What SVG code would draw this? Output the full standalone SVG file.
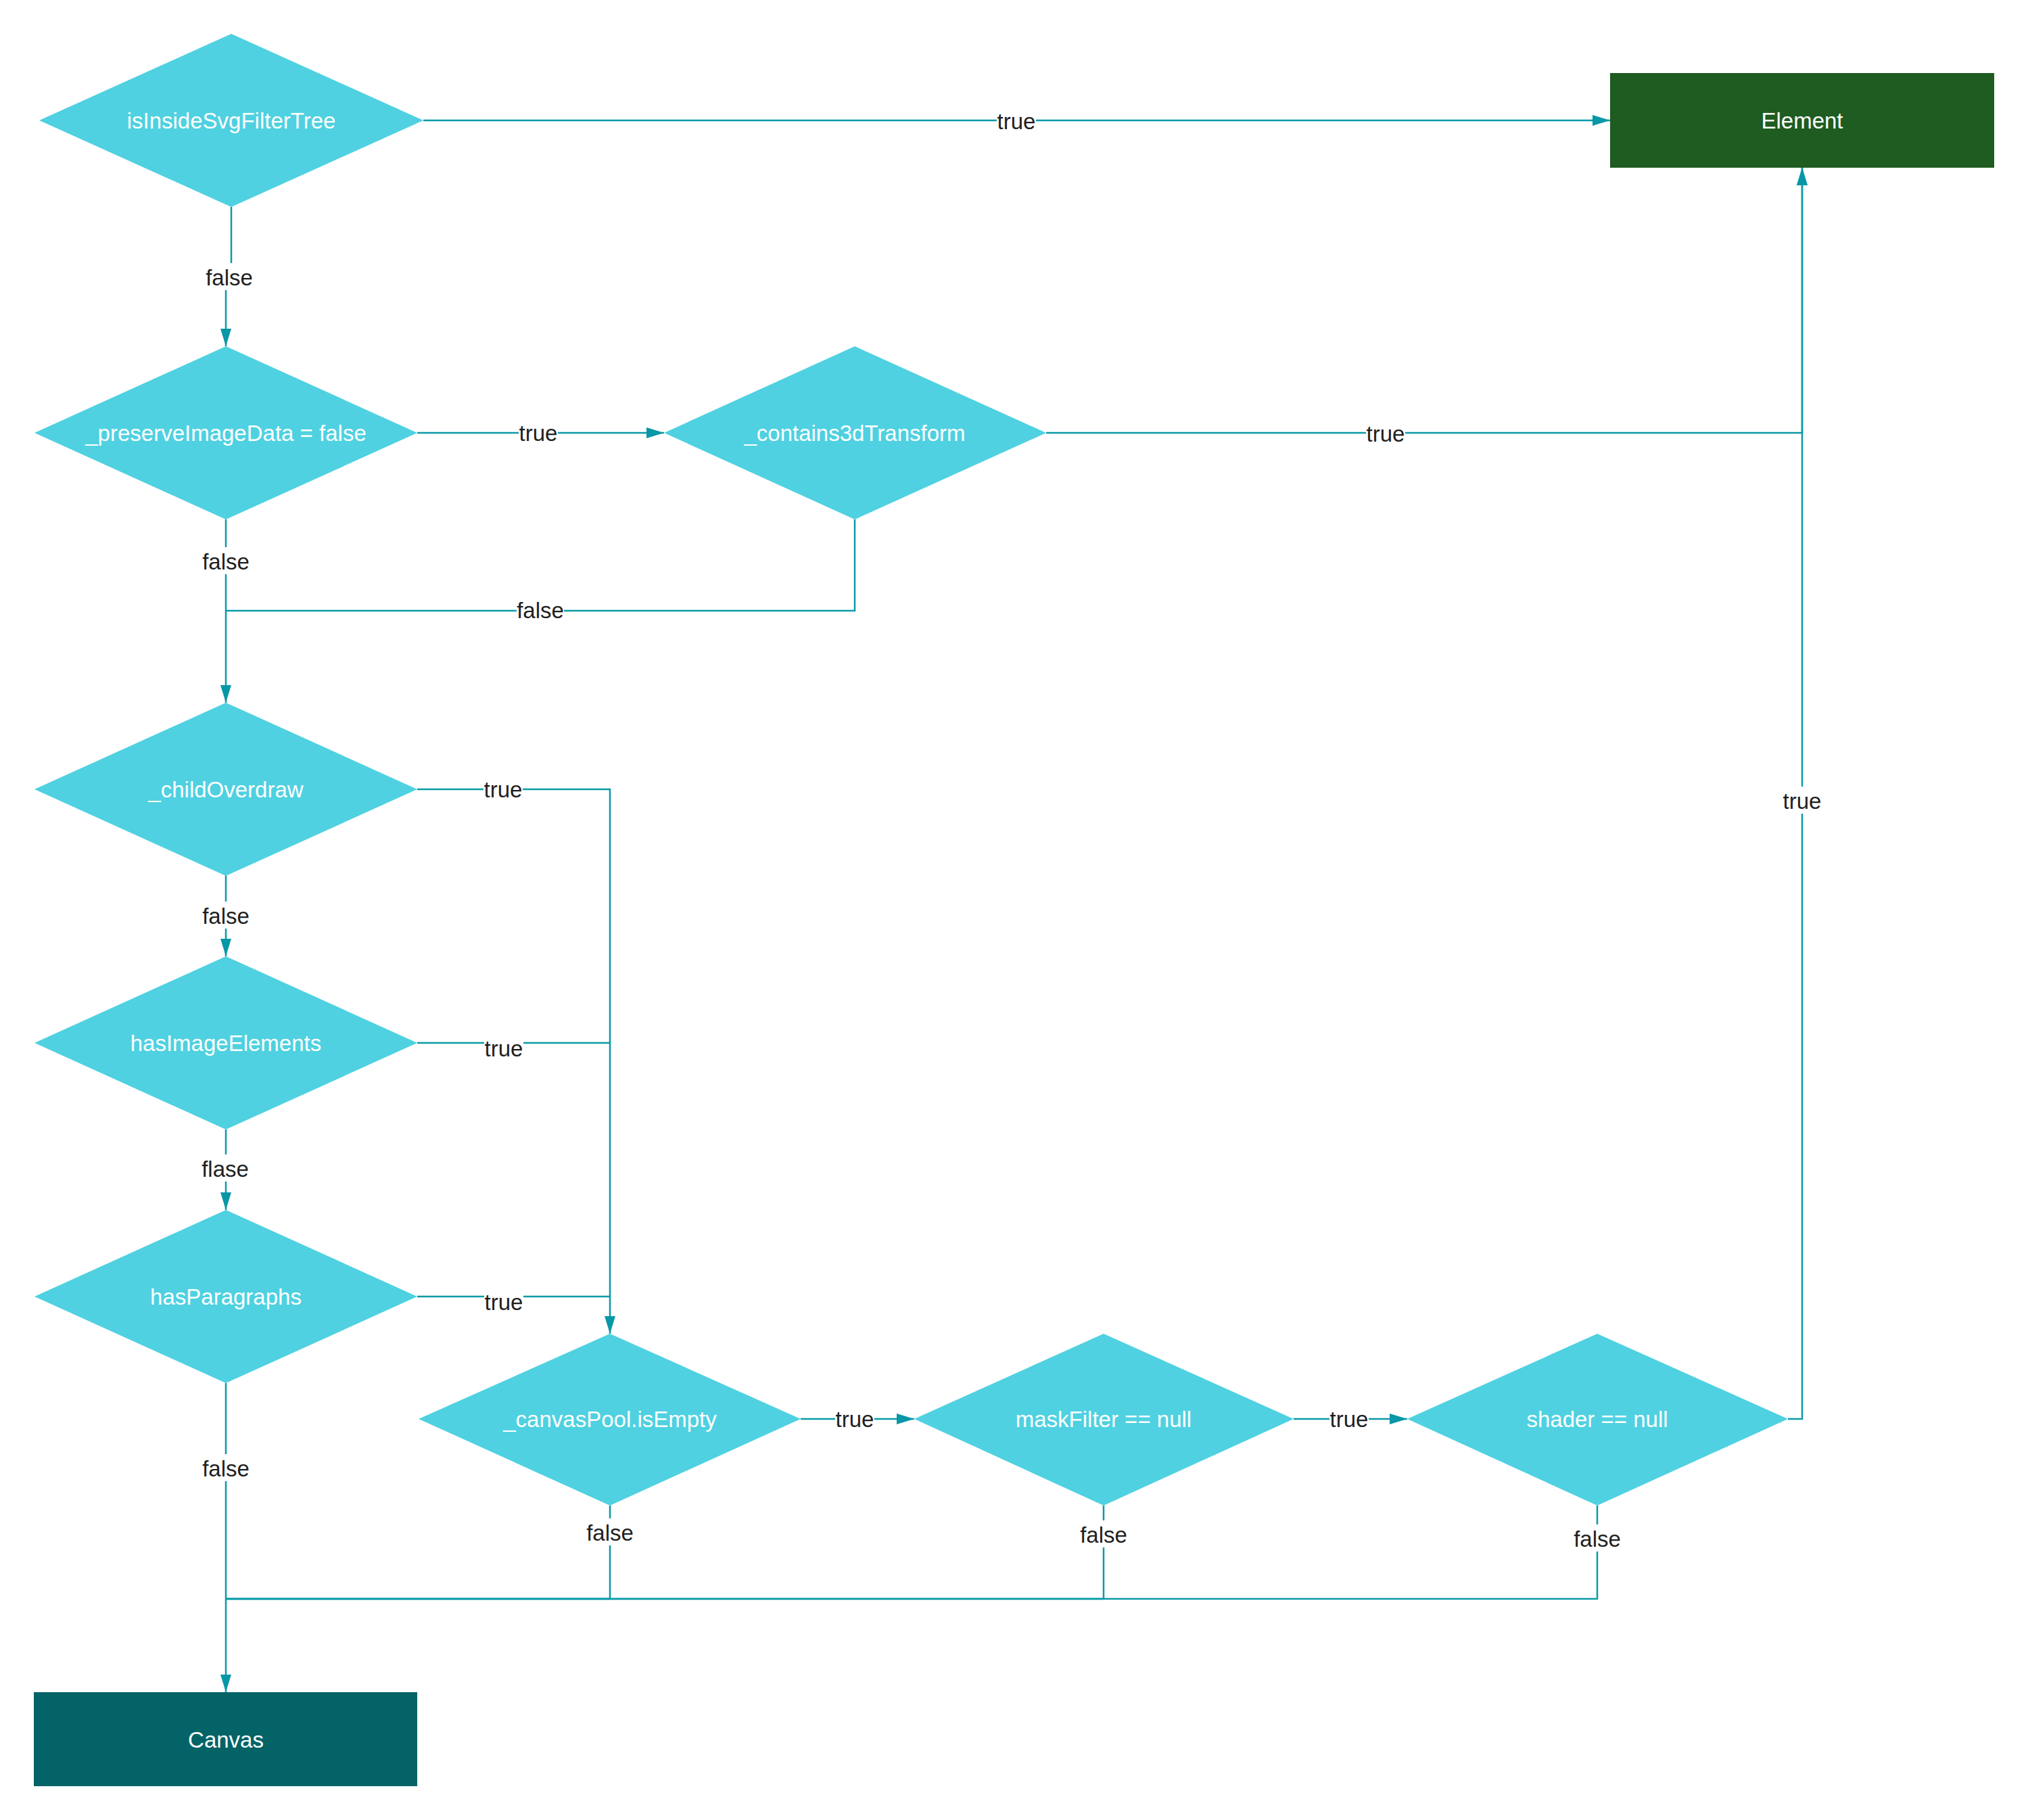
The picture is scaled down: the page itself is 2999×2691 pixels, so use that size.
<svg xmlns="http://www.w3.org/2000/svg" width="2999" height="2691" viewBox="0 0 2999 2691">
<style>
.bg{fill:#ffffff}
.dia{fill:#4fd1e1}
.ntext{font-family:"Liberation Sans",Arial,sans-serif;font-size:33px;fill:#ffffff;text-anchor:middle}
.edge{fill:none;stroke:#0a9aa8;stroke-width:2.5}
.lbg{fill:#ffffff}
.ltext{font-family:"Liberation Sans",Arial,sans-serif;font-size:33px;fill:#1f1f1f;text-anchor:middle}
</style>
<defs>
<marker id="arr" markerUnits="userSpaceOnUse" markerWidth="28" markerHeight="18" refX="26" refY="8" orient="auto">
<path d="M0,0 L26,8 L0,16 z" fill="#0897a6"/>
</marker>
</defs>
<rect class="bg" x="0" y="0" width="2999" height="2691"/>

<g id="connectors">
<path class="edge" d="M626,178 H2381" marker-end="url(#arr)"/>
<path class="edge" d="M342,306 V409 H334 V512" marker-end="url(#arr)"/>
<path class="edge" d="M617,640 H982" marker-end="url(#arr)"/>
<path class="edge" d="M1547,640 H2665 V248" marker-end="url(#arr)"/>
<path class="edge" d="M334,768 V1039" marker-end="url(#arr)"/>
<path class="edge" d="M1264,768 V903 H334"/>
<path class="edge" d="M617,1167 H902 V1972" marker-end="url(#arr)"/>
<path class="edge" d="M617,1542 H902"/>
<path class="edge" d="M617,1917 H902"/>
<path class="edge" d="M334,1294 V1414" marker-end="url(#arr)"/>
<path class="edge" d="M334,1670 V1789" marker-end="url(#arr)"/>
<path class="edge" d="M334,2045 V2502" marker-end="url(#arr)"/>
<path class="edge" d="M902,2226 V2364 H334"/>
<path class="edge" d="M1632,2226 V2364 H334"/>
<path class="edge" d="M2362,2226 V2364 H334"/>
<path class="edge" d="M1184,2098 H1352" marker-end="url(#arr)"/>
<path class="edge" d="M1913,2098 H2081" marker-end="url(#arr)"/>
<path class="edge" d="M2644,2098 H2665 V248" marker-end="url(#arr)"/>

<g id="labels">
<rect class="lbg" x="1474" y="158" width="58" height="40"/><text class="ltext" x="1503" y="191">true</text>
<rect class="lbg" x="304" y="389" width="70" height="40"/><text class="ltext" x="339" y="422">false</text>
<rect class="lbg" x="767" y="619" width="58" height="40"/><text class="ltext" x="796" y="652">true</text>
<rect class="lbg" x="2020" y="620" width="58" height="40"/><text class="ltext" x="2049" y="653">true</text>
<rect class="lbg" x="299" y="809" width="70" height="40"/><text class="ltext" x="334" y="842">false</text>
<rect class="lbg" x="764" y="881" width="70" height="40"/><text class="ltext" x="799" y="914">false</text>
<rect class="lbg" x="715" y="1146" width="58" height="40"/><text class="ltext" x="744" y="1179">true</text>
<rect class="lbg" x="299" y="1333" width="70" height="40"/><text class="ltext" x="334" y="1366">false</text>
<rect class="lbg" x="716" y="1529" width="58" height="40"/><text class="ltext" x="745" y="1562">true</text>
<rect class="lbg" x="298" y="1707" width="70" height="40"/><text class="ltext" x="333" y="1740">flase</text>
<rect class="lbg" x="716" y="1904" width="58" height="40"/><text class="ltext" x="745" y="1937">true</text>
<rect class="lbg" x="299" y="2150" width="70" height="40"/><text class="ltext" x="334" y="2183">false</text>
<rect class="lbg" x="1235" y="2077" width="58" height="40"/><text class="ltext" x="1264" y="2110">true</text>
<rect class="lbg" x="867" y="2245" width="70" height="40"/><text class="ltext" x="902" y="2278">false</text>
<rect class="lbg" x="1597" y="2248" width="70" height="40"/><text class="ltext" x="1632" y="2281">false</text>
<rect class="lbg" x="1966" y="2077" width="58" height="40"/><text class="ltext" x="1995" y="2110">true</text>
<rect class="lbg" x="2327" y="2254" width="70" height="40"/><text class="ltext" x="2362" y="2287">false</text>
<rect class="lbg" x="2636" y="1163" width="58" height="40"/><text class="ltext" x="2665" y="1196">true</text>
</g>
</g>

<g id="isInsideSvgFilterTree">
<polygon class="dia" points="342,50 626,178 342,306 58,178"/>
<text class="ntext" x="342" y="190">isInsideSvgFilterTree</text>
</g>
<g id="preserveImageData">
<polygon class="dia" points="334,512 617,640 334,768 51,640"/>
<text class="ntext" x="334" y="652">_preserveImageData = false</text>
</g>
<g id="contains3dTransform">
<polygon class="dia" points="1264,512 1547,640 1264,768 982,640"/>
<text class="ntext" x="1264" y="652">_contains3dTransform</text>
</g>
<g id="childOverdraw">
<polygon class="dia" points="334,1039 617,1167 334,1295 51,1167"/>
<text class="ntext" x="334" y="1179">_childOverdraw</text>
</g>
<g id="hasImageElements">
<polygon class="dia" points="334,1414 617,1542 334,1670 51,1542"/>
<text class="ntext" x="334" y="1554">hasImageElements</text>
</g>
<g id="hasParagraphs">
<polygon class="dia" points="334,1789 617,1917 334,2045 51,1917"/>
<text class="ntext" x="334" y="1929">hasParagraphs</text>
</g>
<g id="canvasPoolIsEmpty">
<polygon class="dia" points="902,1972 1184,2098 902,2226 619,2098"/>
<text class="ntext" x="902" y="2110">_canvasPool.isEmpty</text>
</g>
<g id="maskFilterNull">
<polygon class="dia" points="1632,1972 1913,2098 1632,2226 1352,2098"/>
<text class="ntext" x="1632" y="2110">maskFilter == null</text>
</g>
<g id="shaderNull">
<polygon class="dia" points="2362,1972 2644,2098 2362,2226 2081,2098"/>
<text class="ntext" x="2362" y="2110">shader == null</text>
</g>
<g id="Element">
<rect x="2381" y="108" width="568" height="140" fill="#1e5c21"/>
<text class="ntext" x="2665" y="190">Element</text>
</g>
<g id="Canvas">
<rect x="50" y="2502" width="567" height="139" fill="#036366"/>
<text class="ntext" x="334" y="2584">Canvas</text>
</g>
</svg>
